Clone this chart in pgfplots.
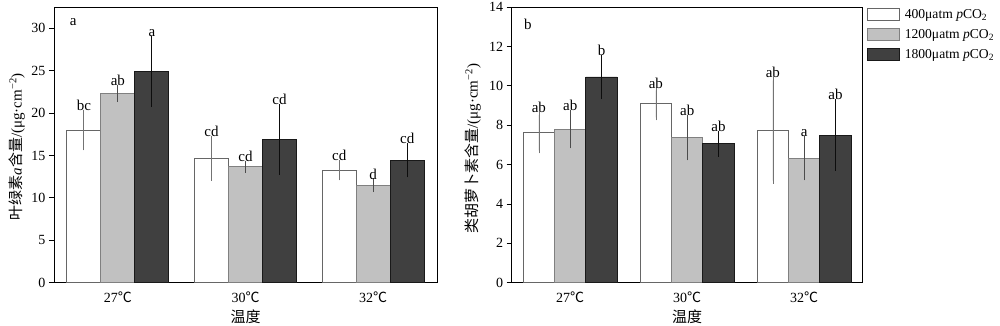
\documentclass[border=0pt]{standalone}
\usepackage{fontspec}
\setmainfont{Liberation Serif}
\newfontfamily\cjk{Noto Sans CJK SC}
\usepackage{pgfplots}
\usepackage{pgfplotstable}
\pgfplotsset{compat=1.18}
\definecolor{midgray}{HTML}{C1C1C1}
\definecolor{darkbar}{HTML}{404040}
\newcommand{\fs}{\fontsize{14}{16}\selectfont}
\newcommand{\fl}{\fontsize{15}{17}\selectfont}
\newcommand{\fg}{\fontsize{13.6}{16}\selectfont}

\pgfplotstableread{
x w we wl g ge gl d de dl
0 18.0 2.05 bc 22.3 0.65 ab 24.9 3.85 a
1 14.67 2.3 cd 13.68 0.35 cd 16.9 3.8 cd
2 13.25 0.83 cd 11.48 0.45 d 14.43 1.67 cd
}\chla

\pgfplotstableread{
x w we wl g ge gl d de dl
0 7.62 0.9 ab 7.79 0.82 ab 10.45 0.98 b
1 9.08 0.68 ab 7.36 1.0 ab 7.06 0.51 ab
2 7.73 2.55 ab 6.32 0.97 a 7.5 1.67 ab
}\carot

\pgfplotsset{
  mybase/.style={
    scale only axis,
    ybar=0pt,
    ymin=0,
    xmin=-0.5, xmax=2.5,
    xtick={0,1,2},
    xticklabels={27{\cjk ℃},30{\cjk ℃},32{\cjk ℃}},
    xtick style={draw=none},
    ytick pos=left,
    tick align=outside,
    major tick length=5pt,
    tick style={black, line width=0.8pt},
    axis line style={black, line width=0.9pt},
    /pgf/number format/assume math mode=true,
    ticklabel style={font=\fs},
    xticklabel style={yshift=-1pt},
    every axis x label/.style={at={(rel axis cs:0.5,0)}, anchor=center, yshift=-34pt, font=\fl},
  },
  errs/.style={error bars/y dir=both, error bars/y explicit,
    error bars/error mark options={mark size=3pt, line width=0.7pt}},
  wstyle/.style={errs, fill=white, draw=black!60, line width=0.8pt,
    error bars/error bar style={black!55, line width=0.8pt}},
  gstyle/.style={errs, fill=midgray, draw=black!50, line width=0.8pt,
    error bars/error bar style={black!70, line width=0.8pt}},
  dstyle/.style={errs, fill=darkbar, draw=black!90, line width=0.8pt,
    error bars/error bar style={black!95, line width=0.8pt}},
  letters/.style={forget plot, draw=none, fill=none, nodes near coords,
    point meta=explicit symbolic,
    every node near coord/.append style={font=\fl, anchor=south, inner sep=2pt, text=black}},
}

\begin{document}
\begin{tikzpicture}
\begin{axis}[mybase,
  at={(54pt,43.3pt)}, anchor=south west,
  width=383pt, height=275.7pt,
  ymax=32.5, ytick={0,5,10,15,20,25,30},
  bar width=34pt,
  xlabel={\cjk 温度},
  ylabel={{\cjk 叶绿素}\textit{a}{\cjk 含量}/(μg·cm\textsuperscript{−2})},
  every axis y label/.style={at={(rel axis cs:0,0.5)}, xshift=-37pt, yshift=-2pt, rotate=90, anchor=center, font=\fl},
]
\addplot[wstyle, bar shift=-34pt] table[x=x, y=w, y error=we] {\chla};
\addplot[gstyle, bar shift=0pt] table[x=x, y=g, y error=ge] {\chla};
\addplot[dstyle, bar shift=34pt] table[x=x, y=d, y error=de] {\chla};
\addplot[letters, bar shift=-34pt] table[x=x, y expr=\thisrow{w}+\thisrow{we}, meta=wl] {\chla};
\addplot[letters, bar shift=0pt] table[x=x, y expr=\thisrow{g}+\thisrow{ge}, meta=gl] {\chla};
\addplot[letters, bar shift=34pt] table[x=x, y expr=\thisrow{d}+\thisrow{de}, meta=dl] {\chla};
\node[font=\fl] at (rel axis cs:0.05,0.946) {a};
\end{axis}

\begin{axis}[mybase,
  at={(511.7pt,43.3pt)}, anchor=south west,
  width=351pt, height=275.7pt,
  ymax=14, ytick={0,2,4,6,8,10,12,14},
  bar width=31.3pt,
  xlabel={\cjk 温度},
  ylabel={{\cjk 类胡萝卜素含量}/(μg·cm\textsuperscript{−2})},
  every axis y label/.style={at={(rel axis cs:0,0.5)}, xshift=-38.7pt, yshift=-4pt, rotate=90, anchor=center, font=\fl},
  legend cell align=left,
  legend style={at={(rel axis cs:1.013,1.0)}, anchor=north west, draw=none, fill=none,
    font=\fg, row sep=5.5pt, inner sep=0pt,
    /tikz/every odd column/.append style={column sep=2.5pt}},
  legend image code/.code={\draw[#1] (0pt,-6pt) rectangle (32pt,6pt);},
]
\addplot[wstyle, bar shift=-31.3pt] table[x=x, y=w, y error=we] {\carot};
\addplot[gstyle, bar shift=0pt] table[x=x, y=g, y error=ge] {\carot};
\addplot[dstyle, bar shift=31.3pt] table[x=x, y=d, y error=de] {\carot};
\legend{400μatm \textit{p}CO\textsubscript{2}, 1200μatm \textit{p}CO\textsubscript{2}, 1800μatm \textit{p}CO\textsubscript{2}}
\addplot[letters, bar shift=-31.3pt] table[x=x, y expr=\thisrow{w}+\thisrow{we}, meta=wl] {\carot};
\addplot[letters, bar shift=0pt] table[x=x, y expr=\thisrow{g}+\thisrow{ge}, meta=gl] {\carot};
\addplot[letters, bar shift=31.3pt] table[x=x, y expr=\thisrow{d}+\thisrow{de}, meta=dl] {\carot};
\node[font=\fl] at (rel axis cs:0.046,0.938) {b};
\end{axis}
\pgfresetboundingbox
\path (0,0) rectangle (1000pt,326pt);
\end{tikzpicture}
\end{document}
